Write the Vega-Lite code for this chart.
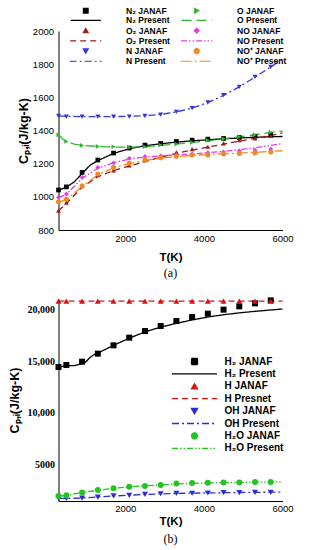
{
  "$schema": "https://vega.github.io/schema/vega-lite/v6.json",
  "padding": {"left": 7.5, "top": 6, "right": 5, "bottom": 5},
  "spacing": 15,
  "config": {
    "view": {"stroke": null},
    "font": "Liberation Sans",
    "axis": {"grid": false, "domainColor": "#000", "domainWidth": 1, "tickColor": "#000", "tickWidth": 1, "tickSize": 0, "labelColor": "#000", "titleColor": "#000", "labelFlush": false, "labelOverlap": false, "labelFont": "Liberation Sans", "titleFont": "Liberation Sans", "titleFontWeight": "bold"},
    "legend": {"padding": 0, "titleFontSize": 0}
  },
  "resolve": {"scale": {"x": "independent", "y": "independent", "color": "independent", "shape": "independent", "size": "independent", "strokeDash": "independent"}, "legend": {"color": "independent", "shape": "independent", "size": "independent", "strokeDash": "independent"}},
  "vconcat": [
    {
      "width": 224,
      "height": 199,
      "title": {"text": "(a)", "orient": "bottom", "font": "Liberation Serif", "fontSize": 12, "fontWeight": "normal", "offset": 4.5, "color": "#000"},
      "data": {"values": [
        {"s":"N₂ JANAF","T":300,"v":1041},{"s":"N₂ JANAF","T":500,"v":1060},{"s":"N₂ JANAF","T":900,"v":1147},{"s":"N₂ JANAF","T":1300,"v":1222},{"s":"N₂ JANAF","T":1700,"v":1264},{"s":"N₂ JANAF","T":2100,"v":1294},{"s":"N₂ JANAF","T":2500,"v":1312},{"s":"N₂ JANAF","T":2900,"v":1322},{"s":"N₂ JANAF","T":3300,"v":1334},{"s":"N₂ JANAF","T":3700,"v":1342},{"s":"N₂ JANAF","T":4100,"v":1348},{"s":"N₂ JANAF","T":4500,"v":1352},{"s":"N₂ JANAF","T":4900,"v":1358},{"s":"N₂ JANAF","T":5300,"v":1366},{"s":"N₂ JANAF","T":5700,"v":1372},
        {"s":"N₂ Present","T":300,"v":1040},{"s":"N₂ Present","T":500,"v":1058},{"s":"N₂ Present","T":700,"v":1090},{"s":"N₂ Present","T":900,"v":1140},{"s":"N₂ Present","T":1100,"v":1190},{"s":"N₂ Present","T":1300,"v":1218},{"s":"N₂ Present","T":1700,"v":1262},{"s":"N₂ Present","T":2100,"v":1290},{"s":"N₂ Present","T":2500,"v":1308},{"s":"N₂ Present","T":2900,"v":1320},{"s":"N₂ Present","T":3300,"v":1330},{"s":"N₂ Present","T":3700,"v":1338},{"s":"N₂ Present","T":4100,"v":1344},{"s":"N₂ Present","T":4500,"v":1350},{"s":"N₂ Present","T":4900,"v":1355},{"s":"N₂ Present","T":5300,"v":1359},{"s":"N₂ Present","T":5700,"v":1362},{"s":"N₂ Present","T":6000,"v":1364},
        {"s":"O JANAF","T":300,"v":1374},{"s":"O JANAF","T":500,"v":1334},{"s":"O JANAF","T":900,"v":1310},{"s":"O JANAF","T":1300,"v":1304},{"s":"O JANAF","T":1700,"v":1302},{"s":"O JANAF","T":2100,"v":1298},{"s":"O JANAF","T":2500,"v":1302},{"s":"O JANAF","T":2900,"v":1312},{"s":"O JANAF","T":3300,"v":1318},{"s":"O JANAF","T":3700,"v":1328},{"s":"O JANAF","T":4100,"v":1340},{"s":"O JANAF","T":4500,"v":1350},{"s":"O JANAF","T":4900,"v":1362},{"s":"O JANAF","T":5300,"v":1374},{"s":"O JANAF","T":5700,"v":1390},
        {"s":"O Present","T":300,"v":1375},{"s":"O Present","T":400,"v":1350},{"s":"O Present","T":500,"v":1334},{"s":"O Present","T":700,"v":1318},{"s":"O Present","T":900,"v":1310},{"s":"O Present","T":1300,"v":1304},{"s":"O Present","T":1700,"v":1300},{"s":"O Present","T":2100,"v":1299},{"s":"O Present","T":2500,"v":1303},{"s":"O Present","T":2900,"v":1310},{"s":"O Present","T":3300,"v":1318},{"s":"O Present","T":3700,"v":1328},{"s":"O Present","T":4100,"v":1338},{"s":"O Present","T":4500,"v":1350},{"s":"O Present","T":4900,"v":1362},{"s":"O Present","T":5300,"v":1374},{"s":"O Present","T":5700,"v":1388},{"s":"O Present","T":6000,"v":1398},
        {"s":"O₂ JANAF","T":300,"v":916},{"s":"O₂ JANAF","T":500,"v":965},{"s":"O₂ JANAF","T":900,"v":1065},{"s":"O₂ JANAF","T":1300,"v":1130},{"s":"O₂ JANAF","T":1700,"v":1160},{"s":"O₂ JANAF","T":2100,"v":1190},{"s":"O₂ JANAF","T":2500,"v":1221},{"s":"O₂ JANAF","T":2900,"v":1245},{"s":"O₂ JANAF","T":3300,"v":1268},{"s":"O₂ JANAF","T":3700,"v":1288},{"s":"O₂ JANAF","T":4100,"v":1302},{"s":"O₂ JANAF","T":4500,"v":1322},{"s":"O₂ JANAF","T":4900,"v":1342},{"s":"O₂ JANAF","T":5300,"v":1352},{"s":"O₂ JANAF","T":5700,"v":1368},
        {"s":"O₂ Present","T":300,"v":916},{"s":"O₂ Present","T":500,"v":960},{"s":"O₂ Present","T":900,"v":1058},{"s":"O₂ Present","T":1300,"v":1122},{"s":"O₂ Present","T":1700,"v":1158},{"s":"O₂ Present","T":2100,"v":1186},{"s":"O₂ Present","T":2500,"v":1213},{"s":"O₂ Present","T":2900,"v":1238},{"s":"O₂ Present","T":3300,"v":1262},{"s":"O₂ Present","T":3700,"v":1282},{"s":"O₂ Present","T":4100,"v":1300},{"s":"O₂ Present","T":4500,"v":1318},{"s":"O₂ Present","T":4900,"v":1336},{"s":"O₂ Present","T":5300,"v":1352},{"s":"O₂ Present","T":5700,"v":1370},{"s":"O₂ Present","T":6000,"v":1385},
        {"s":"NO JANAF","T":300,"v":997},{"s":"NO JANAF","T":500,"v":1017},{"s":"NO JANAF","T":900,"v":1117},{"s":"NO JANAF","T":1300,"v":1177},{"s":"NO JANAF","T":1700,"v":1205},{"s":"NO JANAF","T":2100,"v":1232},{"s":"NO JANAF","T":2500,"v":1243},{"s":"NO JANAF","T":2900,"v":1247},{"s":"NO JANAF","T":3300,"v":1253},{"s":"NO JANAF","T":3700,"v":1258},{"s":"NO JANAF","T":4100,"v":1266},{"s":"NO JANAF","T":4500,"v":1270},{"s":"NO JANAF","T":4900,"v":1276},{"s":"NO JANAF","T":5300,"v":1282},{"s":"NO JANAF","T":5700,"v":1288},
        {"s":"NO Present","T":300,"v":995},{"s":"NO Present","T":500,"v":1015},{"s":"NO Present","T":900,"v":1112},{"s":"NO Present","T":1300,"v":1172},{"s":"NO Present","T":1700,"v":1205},{"s":"NO Present","T":2100,"v":1228},{"s":"NO Present","T":2500,"v":1240},{"s":"NO Present","T":2900,"v":1247},{"s":"NO Present","T":3300,"v":1253},{"s":"NO Present","T":3700,"v":1259},{"s":"NO Present","T":4100,"v":1266},{"s":"NO Present","T":4500,"v":1274},{"s":"NO Present","T":4900,"v":1284},{"s":"NO Present","T":5300,"v":1296},{"s":"NO Present","T":5700,"v":1310},{"s":"NO Present","T":6000,"v":1322},
        {"s":"N JANAF","T":300,"v":1488},{"s":"N JANAF","T":500,"v":1484},{"s":"N JANAF","T":900,"v":1484},{"s":"N JANAF","T":1300,"v":1484},{"s":"N JANAF","T":1700,"v":1484},{"s":"N JANAF","T":2100,"v":1484},{"s":"N JANAF","T":2500,"v":1488},{"s":"N JANAF","T":2900,"v":1496},{"s":"N JANAF","T":3300,"v":1512},{"s":"N JANAF","T":3700,"v":1535},{"s":"N JANAF","T":4100,"v":1569},{"s":"N JANAF","T":4500,"v":1613},{"s":"N JANAF","T":4900,"v":1663},{"s":"N JANAF","T":5300,"v":1723},{"s":"N JANAF","T":5700,"v":1783},
        {"s":"N Present","T":300,"v":1487},{"s":"N Present","T":900,"v":1484},{"s":"N Present","T":1300,"v":1484},{"s":"N Present","T":1700,"v":1484},{"s":"N Present","T":2100,"v":1485},{"s":"N Present","T":2500,"v":1489},{"s":"N Present","T":2900,"v":1497},{"s":"N Present","T":3300,"v":1512},{"s":"N Present","T":3700,"v":1535},{"s":"N Present","T":4100,"v":1568},{"s":"N Present","T":4500,"v":1612},{"s":"N Present","T":4900,"v":1663},{"s":"N Present","T":5300,"v":1722},{"s":"N Present","T":5700,"v":1783},{"s":"N Present","T":6000,"v":1830},
        {"s":"NO⁺ JANAF","T":300,"v":970},{"s":"NO⁺ JANAF","T":500,"v":985},{"s":"NO⁺ JANAF","T":900,"v":1067},{"s":"NO⁺ JANAF","T":1300,"v":1137},{"s":"NO⁺ JANAF","T":1700,"v":1179},{"s":"NO⁺ JANAF","T":2100,"v":1203},{"s":"NO⁺ JANAF","T":2500,"v":1223},{"s":"NO⁺ JANAF","T":2900,"v":1235},{"s":"NO⁺ JANAF","T":3300,"v":1244},{"s":"NO⁺ JANAF","T":3700,"v":1252},{"s":"NO⁺ JANAF","T":4100,"v":1253},{"s":"NO⁺ JANAF","T":4500,"v":1258},{"s":"NO⁺ JANAF","T":4900,"v":1262},{"s":"NO⁺ JANAF","T":5300,"v":1265},{"s":"NO⁺ JANAF","T":5700,"v":1270},
        {"s":"NO⁺ Present","T":300,"v":968},{"s":"NO⁺ Present","T":500,"v":982},{"s":"NO⁺ Present","T":900,"v":1062},{"s":"NO⁺ Present","T":1300,"v":1132},{"s":"NO⁺ Present","T":1700,"v":1175},{"s":"NO⁺ Present","T":2100,"v":1200},{"s":"NO⁺ Present","T":2500,"v":1220},{"s":"NO⁺ Present","T":2900,"v":1233},{"s":"NO⁺ Present","T":3300,"v":1242},{"s":"NO⁺ Present","T":3700,"v":1250},{"s":"NO⁺ Present","T":4100,"v":1255},{"s":"NO⁺ Present","T":4500,"v":1260},{"s":"NO⁺ Present","T":4900,"v":1264},{"s":"NO⁺ Present","T":5300,"v":1268},{"s":"NO⁺ Present","T":5700,"v":1274},{"s":"NO⁺ Present","T":6000,"v":1278}
      ]},
      "encoding": {
        "x": {"field": "T", "type": "quantitative", "scale": {"domain": [300, 6000], "nice": false, "zero": false},
          "axis": {"title": "T(K)", "titleFontSize": 11.5, "titlePadding": 9, "labelFontSize": 9.5, "labelPadding": 3,
            "values": [500,1000,1500,2000,2500,3000,3500,4000,4500,5000,5500,6000],
            "labelExpr": "datum.value % 2000 === 0 ? format(datum.value, 'd') : ''",
            "encode": {"ticks": {"update": {"y2": {"signal": "datum.value % 2000 === 0 ? -5 : -3"}}}}}},
        "y": {"field": "v", "type": "quantitative", "scale": {"domain": [800, 2000], "nice": false, "zero": false},
          "axis": {"title": "Cₚ,ᵢ(J/kg-K)", "titleFontSize": 12.5, "titlePadding": 1.5, "labelFontSize": 9.5, "labelPadding": 5,
            "values": [800,850,900,950,1000,1050,1100,1150,1200,1250,1300,1350,1400,1450,1500,1550,1600,1650,1700,1750,1800,1850,1900,1950,2000],
            "labelExpr": "datum.value % 200 === 0 ? format(datum.value, 'd') : ''",
            "encode": {"ticks": {"update": {"x2": {"signal": "datum.value % 200 === 0 ? 5 : 3"}}}}}}
      },
      "layer": [
        {
          "transform": [{"filter": "indexof(datum.s, 'JANAF') < 0"}],
          "mark": {"type": "line", "strokeWidth": 1.3},
          "encoding": {
            "color": {"field": "s", "type": "nominal", "scale": {"domain": ["N₂ JANAF","O JANAF","N₂ Present","O Present","O₂ JANAF","NO JANAF","O₂ Present","NO Present","N JANAF","NO⁺ JANAF","N Present","NO⁺ Present"], "range": ["#000000","#2fb52f","#000000","#2fb52f","#a01818","#e23ee2","#a01818","#e23ee2","#3636d6","#f28a22","#3636d6","#f28a22"]},
              "legend": {"title": null, "orient": "none", "legendX": 8, "legendY": -25, "columns": 2, "direction": "horizontal", "labelFont": "Liberation Sans", "labelFontSize": 8.5, "labelFontWeight": "bold", "labelColor": "#000", "symbolOffset": 15, "labelOffset": 36, "rowPadding": 0.2, "columnPadding": 7, "symbolStrokeWidth": 1.2, "labelLimit": 200}},
            "strokeDash": {"field": "s", "type": "nominal", "scale": {"domain": ["N₂ JANAF","O JANAF","N₂ Present","O Present","O₂ JANAF","NO JANAF","O₂ Present","NO Present","N JANAF","NO⁺ JANAF","N Present","NO⁺ Present"], "range": [[1,0],[1,0],[1,0],[10,5],[1,0],[1,0],[6,4],[6,2,1.5,2,1.5,2],[1,0],[1,0],[7,3,2,3],[11,3,2,3]]}, "legend": {"title": null}}
          }
        },
        {
          "transform": [{"filter": "indexof(datum.s, 'JANAF') >= 0"}],
          "mark": {"type": "point", "filled": true, "opacity": 1, "clip": false},
          "encoding": {
            "color": {"field": "s", "type": "nominal", "scale": {"domain": ["N₂ JANAF","O JANAF","N₂ Present","O Present","O₂ JANAF","NO JANAF","O₂ Present","NO Present","N JANAF","NO⁺ JANAF","N Present","NO⁺ Present"], "range": ["#000000","#2fb52f","#000000","#2fb52f","#a01818","#e23ee2","#a01818","#e23ee2","#3636d6","#f28a22","#3636d6","#f28a22"]}, "legend": {"title": null}},
            "shape": {"field": "s", "type": "nominal", "scale": {"domain": ["N₂ JANAF","O JANAF","N₂ Present","O Present","O₂ JANAF","NO JANAF","O₂ Present","NO Present","N JANAF","NO⁺ JANAF","N Present","NO⁺ Present"], "range": ["square","triangle-right","M-6.33,0H6.33","M-6.33,0H6.33","triangle-up","diamond","M-6.33,0H6.33","M-6.33,0H6.33","triangle-down","circle","M-6.33,0H6.33","M-6.33,0H6.33"]}, "legend": {"title": null}},
            "size": {"field": "s", "type": "nominal", "scale": {"domain": ["N₂ JANAF","O JANAF","N₂ Present","O Present","O₂ JANAF","NO JANAF","O₂ Present","NO Present","N JANAF","NO⁺ JANAF","N Present","NO⁺ Present"], "range": [22,26,36,36,26,26,36,36,26,40,36,36]}, "legend": {"title": null}}
          }
        }
      ]
    },
    {
      "width": 224,
      "height": 202,
      "title": {"text": "(b)", "orient": "bottom", "font": "Liberation Serif", "fontSize": 12, "fontWeight": "normal", "offset": 7, "color": "#000"},
      "data": {"values": [
        {"s":"H₂ JANAF","T":300,"v":14432},{"s":"H₂ JANAF","T":500,"v":14625},{"s":"H₂ JANAF","T":900,"v":14950},{"s":"H₂ JANAF","T":1300,"v":15725},{"s":"H₂ JANAF","T":1700,"v":16526},{"s":"H₂ JANAF","T":2100,"v":17269},{"s":"H₂ JANAF","T":2500,"v":17906},{"s":"H₂ JANAF","T":2900,"v":18390},{"s":"H₂ JANAF","T":3300,"v":18871},{"s":"H₂ JANAF","T":3700,"v":19257},{"s":"H₂ JANAF","T":4100,"v":19585},{"s":"H₂ JANAF","T":4500,"v":19971},{"s":"H₂ JANAF","T":4900,"v":20290},{"s":"H₂ JANAF","T":5300,"v":20579},{"s":"H₂ JANAF","T":5700,"v":20869},
        {"s":"H₂ Present","T":300,"v":14430},{"s":"H₂ Present","T":500,"v":14560},{"s":"H₂ Present","T":700,"v":14560},{"s":"H₂ Present","T":900,"v":14750},{"s":"H₂ Present","T":1000,"v":14950},{"s":"H₂ Present","T":1100,"v":15350},{"s":"H₂ Present","T":1200,"v":15620},{"s":"H₂ Present","T":1300,"v":15780},{"s":"H₂ Present","T":1700,"v":16520},{"s":"H₂ Present","T":2100,"v":17220},{"s":"H₂ Present","T":2500,"v":17820},{"s":"H₂ Present","T":2900,"v":18290},{"s":"H₂ Present","T":3300,"v":18650},{"s":"H₂ Present","T":3700,"v":18980},{"s":"H₂ Present","T":4100,"v":19260},{"s":"H₂ Present","T":4500,"v":19480},{"s":"H₂ Present","T":4900,"v":19660},{"s":"H₂ Present","T":5300,"v":19810},{"s":"H₂ Present","T":5700,"v":19940},{"s":"H₂ Present","T":6000,"v":20030},
        {"s":"H JANAF","T":300,"v":20800},{"s":"H JANAF","T":500,"v":20800},{"s":"H JANAF","T":900,"v":20800},{"s":"H JANAF","T":1300,"v":20800},{"s":"H JANAF","T":1700,"v":20800},{"s":"H JANAF","T":2100,"v":20800},{"s":"H JANAF","T":2500,"v":20800},{"s":"H JANAF","T":2900,"v":20800},{"s":"H JANAF","T":3300,"v":20800},{"s":"H JANAF","T":3700,"v":20800},{"s":"H JANAF","T":4100,"v":20800},{"s":"H JANAF","T":4500,"v":20800},{"s":"H JANAF","T":4900,"v":20800},{"s":"H JANAF","T":5300,"v":20800},{"s":"H JANAF","T":5700,"v":20800},
        {"s":"H Presnet","T":300,"v":20790},{"s":"H Presnet","T":2000,"v":20790},{"s":"H Presnet","T":4000,"v":20790},{"s":"H Presnet","T":6000,"v":20790},
        {"s":"OH JANAF","T":300,"v":1760},{"s":"OH JANAF","T":500,"v":1740},{"s":"OH JANAF","T":900,"v":1780},{"s":"OH JANAF","T":1300,"v":1880},{"s":"OH JANAF","T":1700,"v":1990},{"s":"OH JANAF","T":2100,"v":2050},{"s":"OH JANAF","T":2500,"v":2140},{"s":"OH JANAF","T":2900,"v":2200},{"s":"OH JANAF","T":3300,"v":2240},{"s":"OH JANAF","T":3700,"v":2250},{"s":"OH JANAF","T":4100,"v":2270},{"s":"OH JANAF","T":4500,"v":2300},{"s":"OH JANAF","T":4900,"v":2310},{"s":"OH JANAF","T":5300,"v":2330},{"s":"OH JANAF","T":5700,"v":2340},
        {"s":"OH Present","T":300,"v":1760},{"s":"OH Present","T":500,"v":1745},{"s":"OH Present","T":900,"v":1790},{"s":"OH Present","T":1300,"v":1890},{"s":"OH Present","T":1700,"v":1985},{"s":"OH Present","T":2100,"v":2060},{"s":"OH Present","T":2500,"v":2130},{"s":"OH Present","T":2900,"v":2190},{"s":"OH Present","T":3300,"v":2230},{"s":"OH Present","T":3700,"v":2260},{"s":"OH Present","T":4100,"v":2280},{"s":"OH Present","T":4500,"v":2300},{"s":"OH Present","T":4900,"v":2320},{"s":"OH Present","T":5300,"v":2335},{"s":"OH Present","T":5700,"v":2350},{"s":"OH Present","T":6000,"v":2360},
        {"s":"H₂O JANAF","T":300,"v":1982},{"s":"H₂O JANAF","T":500,"v":2050},{"s":"H₂O JANAF","T":900,"v":2310},{"s":"H₂O JANAF","T":1300,"v":2560},{"s":"H₂O JANAF","T":1700,"v":2720},{"s":"H₂O JANAF","T":2100,"v":2880},{"s":"H₂O JANAF","T":2500,"v":2950},{"s":"H₂O JANAF","T":2900,"v":3040},{"s":"H₂O JANAF","T":3300,"v":3200},{"s":"H₂O JANAF","T":3700,"v":3230},{"s":"H₂O JANAF","T":4100,"v":3260},{"s":"H₂O JANAF","T":4500,"v":3290},{"s":"H₂O JANAF","T":4900,"v":3290},{"s":"H₂O JANAF","T":5300,"v":3330},{"s":"H₂O JANAF","T":5700,"v":3330},
        {"s":"H₂O Present","T":300,"v":1970},{"s":"H₂O Present","T":500,"v":2040},{"s":"H₂O Present","T":900,"v":2300},{"s":"H₂O Present","T":1300,"v":2550},{"s":"H₂O Present","T":1700,"v":2720},{"s":"H₂O Present","T":2100,"v":2870},{"s":"H₂O Present","T":2500,"v":2960},{"s":"H₂O Present","T":2900,"v":3050},{"s":"H₂O Present","T":3300,"v":3140},{"s":"H₂O Present","T":3700,"v":3200},{"s":"H₂O Present","T":4100,"v":3240},{"s":"H₂O Present","T":4500,"v":3270},{"s":"H₂O Present","T":4900,"v":3300},{"s":"H₂O Present","T":5300,"v":3320},{"s":"H₂O Present","T":5700,"v":3335},{"s":"H₂O Present","T":6000,"v":3345}
      ]},
      "encoding": {
        "x": {"field": "T", "type": "quantitative", "scale": {"domain": [300, 6000], "nice": false, "zero": false},
          "axis": {"title": "T(K)", "titleFontSize": 11.5, "titlePadding": 2.5, "labelFontSize": 9.5, "labelPadding": 2,
            "values": [500,1000,1500,2000,2500,3000,3500,4000,4500,5000,5500,6000],
            "labelExpr": "datum.value % 2000 === 0 ? format(datum.value, 'd') : ''",
            "encode": {"ticks": {"update": {"y2": {"signal": "datum.value % 2000 === 0 ? -5 : -3"}}}}}},
        "y": {"field": "v", "type": "quantitative", "scale": {"domain": [1500, 21000], "nice": false, "zero": false},
          "axis": {"title": "Cₚ,ᵢ(J/kg-K)", "titleFontSize": 12.5, "titlePadding": 6, "labelFont": "Liberation Serif", "labelFontWeight": "bold", "labelFontSize": 10, "labelPadding": 4,
            "values": [2000,3000,4000,5000,6000,7000,8000,9000,10000,11000,12000,13000,14000,15000,16000,17000,18000,19000,20000,21000],
            "labelExpr": "datum.value % 5000 === 0 ? (datum.value >= 10000 ? format(datum.value, ',') : format(datum.value, 'd')) : ''",
            "encode": {"ticks": {"update": {"x2": {"signal": "datum.value % 5000 === 0 ? 5 : 3"}}}}}}
      },
      "layer": [
        {
          "transform": [{"filter": "indexof(datum.s, 'JANAF') < 0"}],
          "mark": {"type": "line", "strokeWidth": 1.3},
          "encoding": {
            "color": {"field": "s", "type": "nominal", "scale": {"domain": ["H₂ JANAF","H₂ Present","H JANAF","H Presnet","OH JANAF","OH Present","H₂O JANAF","H₂O Present"], "range": ["#000000","#000000","#d41515","#d41515","#2c2cd6","#2c2cd6","#22c422","#22c422"]},
              "legend": {"title": null, "orient": "none", "legendX": 113.5, "legendY": 57.5, "columns": 1, "direction": "vertical", "labelFont": "Liberation Sans", "labelFontSize": 10, "labelFontWeight": "bold", "labelColor": "#000", "symbolOffset": 17.5, "labelOffset": 25, "rowPadding": 1.4, "symbolStrokeWidth": 1.3, "labelLimit": 200}},
            "strokeDash": {"field": "s", "type": "nominal", "scale": {"domain": ["H₂ JANAF","H₂ Present","H JANAF","H Presnet","OH JANAF","OH Present","H₂O JANAF","H₂O Present"], "range": [[1,0],[1,0],[1,0],[6,4],[1,0],[7,3,2,3],[1,0],[6,2,1.5,2,1.5,2]]}, "legend": {"title": null}}
          }
        },
        {
          "transform": [{"filter": "indexof(datum.s, 'JANAF') >= 0"}],
          "mark": {"type": "point", "filled": true, "opacity": 1, "clip": false},
          "encoding": {
            "color": {"field": "s", "type": "nominal", "scale": {"domain": ["H₂ JANAF","H₂ Present","H JANAF","H Presnet","OH JANAF","OH Present","H₂O JANAF","H₂O Present"], "range": ["#000000","#000000","#d41515","#d41515","#2c2cd6","#2c2cd6","#22c422","#22c422"]}, "legend": {"title": null}},
            "shape": {"field": "s", "type": "nominal", "scale": {"domain": ["H₂ JANAF","H₂ Present","H JANAF","H Presnet","OH JANAF","OH Present","H₂O JANAF","H₂O Present"], "range": ["square","M-7.5,0H7.5","triangle-up","M-7.5,0H7.5","triangle-down","M-7.5,0H7.5","circle","M-7.5,0H7.5"]}, "legend": {"title": null}},
            "size": {"field": "s", "type": "nominal", "scale": {"domain": ["H₂ JANAF","H₂ Present","H JANAF","H Presnet","OH JANAF","OH Present","H₂O JANAF","H₂O Present"], "range": [36,36,36,36,36,36,64,36]}, "legend": {"title": null}}
          }
        }
      ]
    }
  ]
}
